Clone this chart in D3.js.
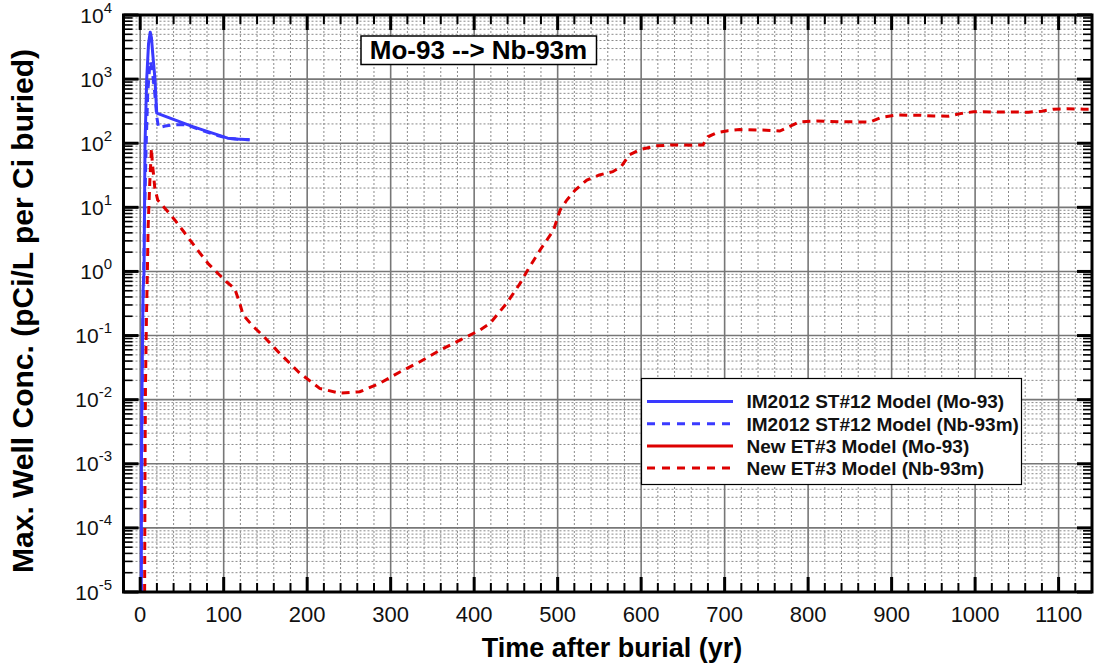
<!DOCTYPE html>
<html><head><meta charset="utf-8">
<script src="https://cdn.jsdelivr.net/npm/d3@7"></script>
<style>
body{margin:0;background:#fff;}
svg{display:block;font-family:"Liberation Sans",Arial,sans-serif;}
</style></head>
<body>
<svg id="chart" width="1094" height="667"></svg>
<script>
// ---- data (years after burial, pCi/L per Ci buried) ----
const blueMoYears = [1.3, 1.5, 2.0, 3.4, 4.6, 5.8, 7.8, 10.0, 12.0, 13.5, 15.0, 17.7, 19.8, 63.0, 104.8, 115, 131];
const blueMoVals  = [1e-5, 1e-3, 1e-2, 0.5, 1, 100, 1000, 3600, 5400, 4400, 2500, 1000, 295, 182, 120, 116, 113];

const blueNbYears = [1.4, 3.0, 5.0, 7.0, 9.0, 11.8, 14.0, 17.0, 20.0, 22.0, 30, 40, 55, 70, 90, 104.8, 115, 131];
const blueNbVals  = [1e-5, 0.1, 5, 80, 600, 1900, 1500, 700, 250, 175, 185, 195, 195, 165, 135, 120, 116, 113];

const redNbYears = [5.3, 5.8, 6.3, 7.5, 8.6, 9.5, 11.5, 13.5, 14.5, 15.8, 17.5, 21, 31.7, 41.7, 52, 61.3, 71.3, 82, 93.2, 103.3, 113.2, 119.2, 123.2, 135, 147, 167, 191, 215, 239, 263, 287, 311, 335, 359, 383, 407, 419, 439, 455, 465, 479, 495, 503, 511, 521, 535, 550, 566, 576, 586, 598, 618, 638, 662, 674, 680, 690, 704, 718, 750, 766, 778, 790, 810, 842, 874, 888, 906, 934, 950, 968, 984, 998, 1030, 1064, 1080, 1094, 1110, 1130, 1140];
const redNbVals  = [1e-5, 1e-3, 0.015, 0.2, 1, 5, 25, 83, 50, 34, 20, 13, 9, 6.3, 4.2, 2.9, 1.95, 1.3, 0.93, 0.69, 0.54, 0.32, 0.21, 0.14, 0.10, 0.053, 0.026, 0.015, 0.0126, 0.0133, 0.018, 0.027, 0.039, 0.059, 0.085, 0.122, 0.155, 0.32, 0.65, 1.1, 2.16, 4.4, 9.1, 13, 18.6, 26.7, 32, 36, 43, 66, 79, 91, 94, 93, 94, 126, 145, 157, 163, 160, 155, 183, 216, 222, 216, 214, 254, 275, 273, 266, 264, 292, 310, 307, 305, 316, 340, 345, 340, 340];

const legendLabels = ["IM2012 ST#12 Model (Mo-93)", "IM2012 ST#12 Model (Nb-93m)", "New ET#3 Model (Mo-93)", "New ET#3 Model (Nb-93m)"];
const xTickValues = [0, 100, 200, 300, 400, 500, 600, 700, 800, 900, 1000, 1100];
const yExponents = [-5, -4, -3, -2, -1, 0, 1, 2, 3, 4];
const titleText = "Mo-93 --> Nb-93m";
const xLabel = "Time after burial (yr)";
const yLabel = "Max. Well Conc. (pCi/L per Ci buried)";

// ---- layout ----
const L = 123.5, R = 1092, T = 15, B = 592;
const BLUE = "#3a3aff", RED = "#dd0000";
const svg = d3.select("#chart");
const x = d3.scaleLinear().domain([-20, 1140]).range([L, R]);
const y = d3.scaleLog().domain([1e-5, 1e4]).range([B, T]);

// grid
const g = svg.append("g");
const xMinor = d3.range(-20, 1141, 20).filter(v => v % 100 !== 0);
const yMinor = [];
yExponents.slice(0, -1).forEach(e => { for (let k = 2; k <= 9; k++) yMinor.push(k * Math.pow(10, e)); });
g.selectAll(".xminor").data(xMinor).join("line")
  .attr("x1", d => x(d)).attr("x2", d => x(d)).attr("y1", T).attr("y2", B)
  .attr("stroke", "#8a8a8a").attr("stroke-width", 1).attr("stroke-dasharray", "2,2");
g.selectAll(".yminor").data(yMinor).join("line")
  .attr("x1", L).attr("x2", R).attr("y1", d => y(d)).attr("y2", d => y(d))
  .attr("stroke", "#8a8a8a").attr("stroke-width", 1).attr("stroke-dasharray", "2,2");
g.selectAll(".xmajor").data(xTickValues).join("line")
  .attr("x1", d => x(d)).attr("x2", d => x(d)).attr("y1", T).attr("y2", B)
  .attr("stroke", "#777").attr("stroke-width", 1.6);
g.selectAll(".ymajor").data(yExponents.map(e => Math.pow(10, e))).join("line")
  .attr("x1", L).attr("x2", R).attr("y1", d => y(d)).attr("y2", d => y(d))
  .attr("stroke", "#777").attr("stroke-width", 1.6);

// data lines
svg.append("clipPath").attr("id", "clip").append("rect")
  .attr("x", L).attr("y", T).attr("width", R - L).attr("height", B - T);
const line = d3.line().x(d => x(d[0])).y(d => y(d[1]));
const zip = (a, b) => a.map((v, i) => [v, b[i]]);
const lines = svg.append("g").attr("clip-path", "url(#clip)");
lines.append("path").attr("d", line(zip(redNbYears, redNbVals)))
  .attr("fill", "none").attr("stroke", RED).attr("stroke-width", 3).attr("stroke-dasharray", "8,6");
lines.append("path").attr("d", line(zip(blueNbYears, blueNbVals)))
  .attr("fill", "none").attr("stroke", BLUE).attr("stroke-width", 3).attr("stroke-dasharray", "8,6");
lines.append("path").attr("d", line(zip(blueMoYears, blueMoVals)))
  .attr("fill", "none").attr("stroke", BLUE).attr("stroke-width", 3).attr("stroke-linejoin", "round");

// frame and ticks (inward on all sides)
const ax = svg.append("g").attr("stroke", "#000");
const majLen = 15, minLen = 9;
xTickValues.forEach(v => {
  ax.append("line").attr("x1", x(v)).attr("x2", x(v)).attr("y1", B).attr("y2", B - majLen).attr("stroke-width", 3);
  ax.append("line").attr("x1", x(v)).attr("x2", x(v)).attr("y1", T).attr("y2", T + majLen).attr("stroke-width", 3);
});
xMinor.forEach(v => {
  ax.append("line").attr("x1", x(v)).attr("x2", x(v)).attr("y1", B).attr("y2", B - minLen).attr("stroke-width", 2);
  ax.append("line").attr("x1", x(v)).attr("x2", x(v)).attr("y1", T).attr("y2", T + minLen).attr("stroke-width", 2);
});
yExponents.forEach(e => {
  const v = Math.pow(10, e);
  ax.append("line").attr("x1", L).attr("x2", L + majLen).attr("y1", y(v)).attr("y2", y(v)).attr("stroke-width", 3);
  ax.append("line").attr("x1", R).attr("x2", R - majLen).attr("y1", y(v)).attr("y2", y(v)).attr("stroke-width", 3);
});
yMinor.forEach(v => {
  ax.append("line").attr("x1", L).attr("x2", L + minLen).attr("y1", y(v)).attr("y2", y(v)).attr("stroke-width", 1.6);
  ax.append("line").attr("x1", R).attr("x2", R - minLen).attr("y1", y(v)).attr("y2", y(v)).attr("stroke-width", 1.6);
});
ax.append("rect").attr("x", L).attr("y", T).attr("width", R - L).attr("height", B - T)
  .attr("fill", "none").attr("stroke-width", 3);

// tick labels
svg.append("g").selectAll("text").data(xTickValues).join("text")
  .attr("x", d => x(d)).attr("y", 622).attr("text-anchor", "middle")
  .attr("font-size", 22).attr("fill", "#111").text(d => d);
const yl = svg.append("g").selectAll("text").data(yExponents).join("text")
  .attr("x", 112).attr("y", d => y(Math.pow(10, d)) + 7.5).attr("text-anchor", "end")
  .attr("font-size", 21).attr("fill", "#111");
yl.append("tspan").text("10");
yl.append("tspan").attr("dy", -10).attr("font-size", 15).text(d => d);

// axis titles
svg.append("text").attr("x", 612).attr("y", 657).attr("text-anchor", "middle")
  .attr("font-size", 27).attr("font-weight", "bold").text(xLabel);
svg.append("text").attr("transform", "translate(33,311) rotate(-90)").attr("text-anchor", "middle")
  .attr("font-size", 30).attr("font-weight", "bold").text(yLabel);

// title box
svg.append("rect").attr("x", 361).attr("y", 36).attr("width", 235.5).attr("height", 28.5)
  .attr("fill", "#fff").attr("stroke", "#000").attr("stroke-width", 1.5);
svg.append("text").attr("x", 478.5).attr("y", 59).attr("text-anchor", "middle")
  .attr("font-size", 26).attr("font-weight", "bold").text(titleText);

// legend
const lg = svg.append("g");
lg.append("rect").attr("x", 641.5).attr("y", 378.5).attr("width", 380).attr("height", 106)
  .attr("fill", "#fff").attr("stroke", "#000").attr("stroke-width", 1.2);
const legendColors = [BLUE, BLUE, RED, RED];
const legendDash = [null, "8,7", null, "8,7"];
legendLabels.forEach((lab, i) => {
  const yy = 401.5 + i * 22.2;
  lg.append("line").attr("x1", 647).attr("x2", 733).attr("y1", yy).attr("y2", yy)
    .attr("stroke", legendColors[i]).attr("stroke-width", 3).attr("stroke-dasharray", legendDash[i]);
  lg.append("text").attr("x", 746.5).attr("y", yy + 6.8).attr("font-size", 19)
    .attr("font-weight", "bold").attr("fill", "#111").text(lab);
});
</script>
</body></html>
